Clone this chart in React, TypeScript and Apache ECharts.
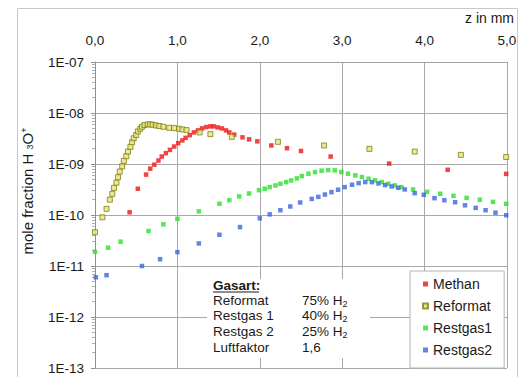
import React, { useEffect, useRef } from "react";
import * as echarts from "echarts";

// ---- data (z in mm, mole fraction) ----
const methanZ = [0.42, 0.52, 0.62, 0.67, 0.72, 0.77, 0.81, 0.86, 0.91, 0.96, 1.01, 1.06, 1.1, 1.15, 1.2, 1.25, 1.3, 1.35, 1.4, 1.44, 1.49, 1.54, 1.59, 1.63, 1.69, 1.79, 1.87, 1.97, 2.14, 2.33, 2.5, 2.86, 3.57, 4.28, 4.99];
const methanV = [1.13e-10, 3.27e-10, 6.2e-10, 8.1e-10, 9.7e-10, 1.17e-9, 1.4e-9, 1.63e-9, 1.89e-9, 2.2e-9, 2.56e-9, 2.9e-9, 3.26e-9, 3.68e-9, 4.16e-9, 4.56e-9, 4.99e-9, 5.3e-9, 5.47e-9, 5.47e-9, 5.22e-9, 4.99e-9, 4.56e-9, 4.16e-9, 3.77e-9, 3.33e-9, 3.04e-9, 2.78e-9, 2.31e-9, 2.04e-9, 1.8e-9, 1.4e-9, 1.02e-9, 7.7e-10, 6.4e-10];

const reformatZ = [0.0, 0.09, 0.14, 0.18, 0.21, 0.23, 0.26, 0.28, 0.3, 0.33, 0.35, 0.38, 0.4, 0.43, 0.45, 0.47, 0.5, 0.52, 0.55, 0.57, 0.6, 0.64, 0.67, 0.7, 0.74, 0.78, 0.83, 0.9, 0.96, 1.02, 1.06, 1.11, 1.27, 1.4, 1.66, 2.22, 2.78, 3.33, 3.88, 4.44, 4.99];
const reformatV = [4.6e-11, 9.0e-11, 1.32e-10, 2.0e-10, 2.6e-10, 3.4e-10, 4.3e-10, 5.5e-10, 7.1e-10, 9.0e-10, 1.15e-9, 1.42e-9, 1.76e-9, 2.17e-9, 2.68e-9, 3.2e-9, 3.7e-9, 4.35e-9, 4.9e-9, 5.37e-9, 5.8e-9, 5.98e-9, 5.98e-9, 5.89e-9, 5.71e-9, 5.55e-9, 5.37e-9, 5.13e-9, 5.06e-9, 4.9e-9, 4.76e-9, 4.62e-9, 4.16e-9, 3.85e-9, 3.41e-9, 2.72e-9, 2.31e-9, 1.98e-9, 1.75e-9, 1.51e-9, 1.37e-9];

const restgas1Z = [0.0, 0.16, 0.31, 0.65, 0.83, 1.0, 1.26, 1.51, 1.63, 1.75, 1.87, 1.99, 2.06, 2.12, 2.19, 2.25, 2.32, 2.38, 2.45, 2.51, 2.59, 2.67, 2.75, 2.83, 2.91, 2.99, 3.07, 3.16, 3.24, 3.32, 3.4, 3.48, 3.56, 3.64, 3.72, 3.86, 4.03, 4.19, 4.35, 4.51, 4.67, 4.83, 4.99];
const restgas1V = [1.9e-11, 2.28e-11, 3.0e-11, 4.85e-11, 6.56e-11, 8.4e-11, 1.18e-10, 1.66e-10, 1.95e-10, 2.31e-10, 2.64e-10, 3.07e-10, 3.27e-10, 3.52e-10, 3.8e-10, 4.1e-10, 4.42e-10, 4.76e-10, 5.22e-10, 5.8e-10, 6.45e-10, 6.95e-10, 7.4e-10, 7.6e-10, 7.5e-10, 6.95e-10, 6.45e-10, 5.98e-10, 5.55e-10, 5.15e-10, 4.78e-10, 4.42e-10, 4.1e-10, 3.8e-10, 3.52e-10, 3.17e-10, 2.85e-10, 2.61e-10, 2.38e-10, 2.17e-10, 1.99e-10, 1.81e-10, 1.66e-10];

const restgas2Z = [0.01, 0.14, 0.57, 0.79, 1.0, 1.26, 1.51, 1.76, 2.0, 2.12, 2.25, 2.37, 2.49, 2.63, 2.71, 2.79, 2.87, 2.95, 3.03, 3.12, 3.2, 3.28, 3.36, 3.44, 3.52, 3.6, 3.68, 3.76, 3.88, 3.99, 4.12, 4.24, 4.37, 4.49, 4.62, 4.74, 4.86, 4.99];
const restgas2V = [6.0e-12, 6.6e-12, 1.0e-11, 1.36e-11, 1.87e-11, 2.77e-11, 4.1e-11, 5.8e-11, 8.6e-11, 1.03e-10, 1.24e-10, 1.47e-10, 1.76e-10, 2.07e-10, 2.27e-10, 2.52e-10, 2.81e-10, 3.13e-10, 3.52e-10, 3.92e-10, 4.22e-10, 4.42e-10, 4.42e-10, 4.16e-10, 3.86e-10, 3.63e-10, 3.42e-10, 3.17e-10, 2.68e-10, 2.49e-10, 2.14e-10, 1.95e-10, 1.78e-10, 1.55e-10, 1.38e-10, 1.24e-10, 1.11e-10, 9.9e-11];

const seriesNames = ["Methan", "Reformat", "Restgas1", "Restgas2"];
const gasartRows = [
  ["Reformat", "75% H{sub|2}"],
  ["Restgas 1", "40% H{sub|2}"],
  ["Restgas 2", "25% H{sub|2}"],
  ["Luftfaktor", "1,6"],
];

const FONT = "'Liberation Sans', Arial, Helvetica, sans-serif";
const TXT = "#1a1a1a";

const zip = (xs: number[], ys: number[]) => xs.map((x, i) => [x, ys[i]]);

export default function App() {
  const ref = useRef<HTMLDivElement>(null);
  useEffect(() => {
    if (!ref.current) return;
    const chart = echarts.init(ref.current, undefined, { renderer: "svg" });
    const rich = {
      sub: { fontSize: 9, verticalAlign: "bottom", padding: [6, 0, 0, 0], fontFamily: FONT, fill: TXT },
      sup: { fontSize: 9, verticalAlign: "top", padding: [0, 0, 6, 0], fontFamily: FONT, fill: TXT },
    };
    const gasartGraphics: any[] = [];
    gasartRows.forEach((r, i) => {
      const y = 300 + i * 15.9;
      gasartGraphics.push({
        type: "text", x: 213, y, z: 102,
        style: { text: r[0], font: `13.5px ${FONT}`, fill: TXT, textVerticalAlign: "middle" },
      });
      gasartGraphics.push({
        type: "text", x: 302, y, z: 102,
        style: {
          text: r[1], fontSize: 13.5, fontFamily: FONT, fill: TXT, textVerticalAlign: "middle",
          rich: { sub: { fontSize: 9, fontFamily: FONT, fill: TXT, padding: [7, 0, 0, 0] } },
        },
      });
    });

    chart.setOption({
      animation: false,
      backgroundColor: "#ffffff",
      grid: { left: 95, right: 19, top: 62, bottom: 9, containLabel: false },
      xAxis: {
        type: "value",
        position: "top",
        min: 0,
        max: 5,
        interval: 1,
        axisLine: { show: true, onZero: false, lineStyle: { color: "#a0a0a0" } },
        axisTick: { show: false },
        axisLabel: {
          margin: 15,
          fontSize: 13.5,
          fontFamily: FONT,
          color: TXT,
          formatter: (v: number) => v.toFixed(1).replace(".", ","),
        },
        splitLine: { show: true, lineStyle: { color: "#a8a8a8", width: 1 } },
      },
      yAxis: {
        type: "log",
        logBase: 10,
        min: 1e-13,
        max: 1e-7,
        interval: 1,
        axisLine: { show: true, lineStyle: { color: "#909090" } },
        axisTick: { show: true, length: 4, lineStyle: { color: "#909090" } },
        minorTick: { show: true, splitNumber: 9, length: 3, lineStyle: { color: "#b0b0b0" } },
        axisLabel: {
          margin: 11,
          fontSize: 13.5,
          fontFamily: FONT,
          color: TXT,
          formatter: (v: number) => {
            const e = Math.round(Math.log10(v));
            return "1E-" + String(-e).padStart(2, "0");
          },
        },
        splitLine: { show: true, lineStyle: { color: "#a8a8a8", width: 1 } },
      },
      legend: {
        orient: "vertical",
        left: 410,
        top: 271,
        width: 92,
        data: seriesNames,
        itemWidth: 5,
        itemHeight: 5,
        itemGap: 8,
        padding: [6, 12, 11, 12],
        backgroundColor: "#ffffff",
        borderColor: "#b4b4b4",
        borderWidth: 1,
        textStyle: { fontSize: 14, fontFamily: FONT, color: TXT },
      },
      graphic: [
        {
          type: "rect",
          shape: { x: 17.5, y: 8.5, width: 500, height: 380 },
          style: { fill: "none", stroke: "#c8c8c8", lineWidth: 1 },
          silent: true,
          z: 0,
        },
        {
          type: "text",
          x: 514,
          y: 18,
          style: { text: "z in mm", font: `14px ${FONT}`, fill: TXT, textAlign: "right", textVerticalAlign: "middle" },
        },
        {
          type: "text",
          x: 27,
          y: 191,
          rotation: Math.PI / 2,
          style: {
            text: "mole fraction H {sub|3}O{sup|+}",
            fontSize: 15,
            fontFamily: FONT,
            fill: TXT,
            textAlign: "center",
            textVerticalAlign: "middle",
            rich,
          },
        },
        {
          type: "rect",
          z: 100,
          shape: { x: 207, y: 279, width: 163, height: 79 },
          style: { fill: "#ffffff", stroke: "none" },
        },
        {
          type: "text",
          z: 102,
          x: 213,
          y: 285,
          style: { text: "Gasart:", font: `bold 13.5px ${FONT}`, fill: TXT, textVerticalAlign: "middle" },
        },
        {
          type: "line",
          z: 102,
          shape: { x1: 213, y1: 292, x2: 259, y2: 292 },
          style: { stroke: TXT, lineWidth: 1 },
        },
        ...gasartGraphics,
      ],
      series: [
        {
          name: "Methan",
          type: "scatter",
          symbol: "rect",
          symbolSize: 4.5,
          itemStyle: { color: "#ee1515" },
          data: zip(methanZ, methanV),
          z: 3,
        },
        {
          name: "Reformat",
          type: "scatter",
          symbol: "rect",
          symbolSize: 5,
          itemStyle: { color: "#e4e480", borderColor: "#7f7f10", borderWidth: 1 },
          data: zip(reformatZ, reformatV),
          z: 4,
        },
        {
          name: "Restgas1",
          type: "scatter",
          symbol: "rect",
          symbolSize: 4.5,
          itemStyle: { color: "#2de02d" },
          data: zip(restgas1Z, restgas1V),
          z: 3,
        },
        {
          name: "Restgas2",
          type: "scatter",
          symbol: "rect",
          symbolSize: 4.5,
          itemStyle: { color: "#3a66e0" },
          data: zip(restgas2Z, restgas2V),
          z: 3,
        },
      ],
    });
    return () => chart.dispose();
  }, []);
  return <div ref={ref} style={{ width: 526, height: 377, position: "absolute", left: 0, top: 0 }} />;
}
